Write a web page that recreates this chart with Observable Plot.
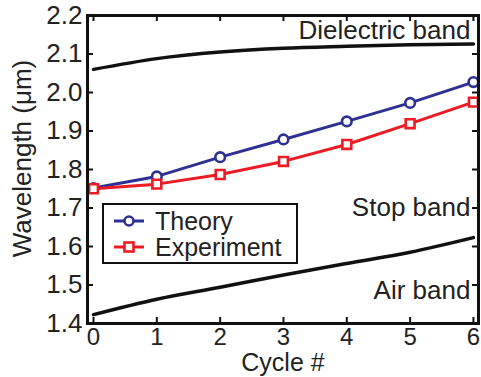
<!DOCTYPE html>
<html>
<head>
<meta charset="utf-8">
<script src="https://cdn.jsdelivr.net/npm/d3@7"></script>
<script src="https://cdn.jsdelivr.net/npm/@observablehq/plot@0.6"></script>
<style>
  html, body { margin: 0; padding: 0; background: #fff; }
  #wrap { position: relative; width: 481px; height: 377px; font-family: "Liberation Sans", Arial, sans-serif; }
  #legend { position: absolute; left: 102px; top: 203px; width: 192px; height: 57px; border: 2.5px solid #111; background: #fff; box-sizing: content-box; font-size: 25px; line-height: 26px; color: #222; }
  #legend .row { display: flex; align-items: center; height: 26px; }
  #legend span { line-height: 26px; }
  #legend svg { margin-left: 10px; margin-right: 11px; }
</style>
</head>
<body>
<div id="wrap"></div>
<script>
const cycles = [0, 1, 2, 3, 4, 5, 6];
const theory = [1.752, 1.782, 1.832, 1.878, 1.925, 1.973, 2.027];
const experiment = [1.750, 1.762, 1.787, 1.821, 1.865, 1.919, 1.975];
const dielectricBand = [2.060, 2.088, 2.105, 2.115, 2.120, 2.124, 2.126];
const airBand = [1.423, 1.463, 1.494, 1.526, 1.556, 1.585, 1.623];
const yTicks = [1.4, 1.5, 1.6, 1.7, 1.8, 1.9, 2.0, 2.1, 2.2];
const xTicks = [0, 1, 2, 3, 4, 5, 6];
const bandLabels = ["Dielectric band", "Stop band", "Air band"];
const bandLabelY = [2.161, 1.701, 1.486];
const seriesNames = ["Theory", "Experiment"];
const seriesColors = ["#2e3192", "#ed1c24"];

const th = cycles.map((c, i) => ({x: c, y: theory[i]}));
const ex = cycles.map((c, i) => ({x: c, y: experiment[i]}));
const db = cycles.map((c, i) => ({x: c, y: dielectricBand[i]}));
const ab = cycles.map((c, i) => ({x: c, y: airBand[i]}));
const labels = bandLabels.map((t, i) => ({x: 6, y: bandLabelY[i], t}));

const W = 481, H = 377, mL = 87, mR = 3, mT = 15, mB = 54;
const pw = W - mL - mR, ph = H - mT - mB;
const tl = 6;

const chart = Plot.plot({
  width: W, height: H,
  marginLeft: mL, marginRight: mR, marginTop: mT, marginBottom: mB,
  style: {fontFamily: "'Liberation Sans', Arial, sans-serif", fontSize: "26px", color: "#222", background: "white"},
  x: {domain: [-0.095, 6.08], ticks: xTicks},
  y: {domain: [1.4, 2.2], ticks: yTicks},
  marks: [
    Plot.axisY(yTicks, {tickSize: 0, tickPadding: 5, tickFormat: d3.format(".1f"), label: null, fontSize: 26}),
    Plot.axisX(xTicks, {tickSize: 0, tickPadding: 4, tickFormat: d => d, label: null, fontSize: 24}),
    Plot.tickY(yTicks, {y: d => d, insetRight: pw - tl, stroke: "#111", strokeWidth: 2}),
    Plot.tickY(yTicks, {y: d => d, insetLeft: pw - tl, stroke: "#111", strokeWidth: 2}),
    Plot.tickX(xTicks, {x: d => d, insetTop: ph - tl, stroke: "#111", strokeWidth: 2}),
    Plot.tickX(xTicks, {x: d => d, insetBottom: ph - tl, stroke: "#111", strokeWidth: 2}),
    Plot.line(db, {x: "x", y: "y", curve: "monotone-x", stroke: "#111", strokeWidth: 3.5}),
    Plot.line(ab, {x: "x", y: "y", curve: "monotone-x", stroke: "#111", strokeWidth: 3.5}),
    Plot.line(th, {x: "x", y: "y", stroke: seriesColors[0], strokeWidth: 3}),
    Plot.line(ex, {x: "x", y: "y", stroke: seriesColors[1], strokeWidth: 3}),
    Plot.dot(th, {x: "x", y: "y", r: 4.8, symbol: "circle", fill: "white", stroke: seriesColors[0], strokeWidth: 2.6}),
    Plot.dot(ex, {x: "x", y: "y", r: 5, symbol: "square", fill: "white", stroke: seriesColors[1], strokeWidth: 2.6}),
    Plot.text(labels, {x: "x", y: "y", text: "t", textAnchor: "end", dx: -3, fill: "#222", fontSize: 26}),
    Plot.text(["Wavelength (μm)"], {text: d => d, frameAnchor: "left", textAnchor: "middle", lineAnchor: "middle", dx: -65, dy: -11, rotate: -90, fill: "#222", fontSize: 26}),
    Plot.text(["Cycle #"], {text: d => d, frameAnchor: "bottom", textAnchor: "middle", lineAnchor: "middle", dy: 39, fill: "#222", fontSize: 25}),
    Plot.frame({stroke: "#111", strokeWidth: 3})
  ]
});

const wrap = document.getElementById("wrap");
wrap.appendChild(chart);

const legend = document.createElement("div");
legend.id = "legend";
const symbols = ['<circle cx="15" cy="8" r="4.5" fill="white" stroke="COL" stroke-width="2.6"/>',
                 '<rect x="10.5" y="3.5" width="9" height="9" fill="white" stroke="COL" stroke-width="2.6"/>'];
legend.innerHTML = seriesNames.map((n, i) =>
  `<div class="row" style="${i === 0 ? 'margin-top:3px' : ''}"><svg width="30" height="16"><line x1="0" x2="30" y1="8" y2="8" stroke="${seriesColors[i]}" stroke-width="3"/>${symbols[i].replace("COL", seriesColors[i])}</svg><span>${n}</span></div>`
).join("");
wrap.appendChild(legend);
</script>
</body>
</html>
